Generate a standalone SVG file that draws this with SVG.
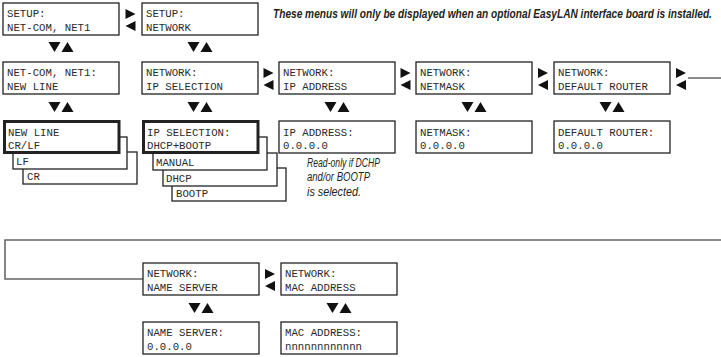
<svg xmlns="http://www.w3.org/2000/svg" xmlns:xlink="http://www.w3.org/1999/xlink" width="721" height="357" viewBox="0 0 721 357">
<style>
.box{fill:#fff;stroke:#222;stroke-width:1.3}
.thick{fill:#fff;stroke:#222;stroke-width:3}
.t{font-family:"Liberation Mono","DejaVu Sans Mono",monospace;font-size:10.7px;fill:#2a2a2a}
.note{font-family:"Liberation Sans",Arial,sans-serif;font-style:italic;fill:#231f20}
.conn{fill:none;stroke:#666;stroke-width:1.6}
.tri{fill:#111}
</style>
<defs>
<path id="td" d="M0,0 L12,0 L6,10 Z"/>
<path id="tu" d="M0,10 L12,10 L6,0 Z"/>
<path id="tr" d="M0,0 L10,5 L0,10 Z"/>
<path id="tl" d="M10,0 L0,5 L10,10 Z"/>
</defs>

<text class="note" transform="matrix(0.7,0,0,1,273,18)" x="0" y="0" font-size="13.5" font-weight="bold" textLength="627" lengthAdjust="spacingAndGlyphs">These menus will only be displayed when an optional EasyLAN  interface board is installed.</text>

<g id="connectors">
<polyline class="conn" points="688,78 721,78"/>
<polyline class="conn" points="721,240 5,240 5,279 143,279"/>
<g class="tri">
<use xlink:href="#td" x="48.5" y="42"/><use xlink:href="#tu" x="61.5" y="42"/>
<use xlink:href="#td" x="187.5" y="42"/><use xlink:href="#tu" x="200.5" y="42"/>
<use xlink:href="#td" x="48.5" y="102"/><use xlink:href="#tu" x="61.5" y="102"/>
<use xlink:href="#td" x="187.5" y="102"/><use xlink:href="#tu" x="200.5" y="102"/>
<use xlink:href="#td" x="324.5" y="102"/><use xlink:href="#tu" x="337.5" y="102"/>
<use xlink:href="#td" x="461.5" y="102"/><use xlink:href="#tu" x="474.5" y="102"/>
<use xlink:href="#td" x="599.5" y="102"/><use xlink:href="#tu" x="612.5" y="102"/>
<use xlink:href="#td" x="188.5" y="303"/><use xlink:href="#tu" x="201.5" y="303"/>
<use xlink:href="#td" x="326.5" y="303"/><use xlink:href="#tu" x="339.5" y="303"/>
<use xlink:href="#tr" x="125.5" y="9"/><use xlink:href="#tl" x="125.5" y="21"/>
<use xlink:href="#tr" x="263.5" y="68"/><use xlink:href="#tl" x="263.5" y="80"/>
<use xlink:href="#tr" x="400.5" y="68"/><use xlink:href="#tl" x="400.5" y="80"/>
<use xlink:href="#tr" x="538" y="68"/><use xlink:href="#tl" x="538" y="80"/>
<use xlink:href="#tr" x="676" y="68"/><use xlink:href="#tl" x="676" y="80"/>
<use xlink:href="#tr" x="265" y="269"/><use xlink:href="#tl" x="265" y="281"/>
</g>
</g>

<g id="setup-netcom"><rect class="box" x="3" y="3" width="116" height="32"/><text class="t" x="7" y="17">SETUP:</text><text class="t" x="7" y="30.5">NET-COM, NET1</text></g>
<g id="setup-network"><rect class="box" x="142" y="3" width="116" height="32"/><text class="t" x="146" y="17">SETUP:</text><text class="t" x="146" y="30.5">NETWORK</text></g>

<g id="netcom-newline"><rect class="box" x="3" y="62" width="116" height="32"/><text class="t" x="7" y="76">NET-COM, NET1:</text><text class="t" x="7" y="89.5">NEW LINE</text></g>
<g id="network-ipsel"><rect class="box" x="142" y="62" width="116" height="32"/><text class="t" x="146" y="76">NETWORK:</text><text class="t" x="146" y="89.5">IP SELECTION</text></g>
<g id="network-ipaddr"><rect class="box" x="279" y="62" width="116" height="32"/><text class="t" x="283" y="76">NETWORK:</text><text class="t" x="283" y="89.5">IP ADDRESS</text></g>
<g id="network-netmask"><rect class="box" x="416" y="62" width="116" height="32"/><text class="t" x="420" y="76">NETWORK:</text><text class="t" x="420" y="89.5">NETMASK</text></g>
<g id="network-router"><rect class="box" x="554" y="62" width="116" height="32"/><text class="t" x="558" y="76">NETWORK:</text><text class="t" x="558" y="89.5">DEFAULT ROUTER</text></g>

<g id="newline-value">
<rect class="box" x="23" y="152" width="114" height="32"/><text class="t" x="27" y="180">CR</text>
<rect class="box" x="13" y="137" width="114" height="32"/><text class="t" x="16" y="165">LF</text>
<rect class="thick" x="4.5" y="121.5" width="114.5" height="31"/><text class="t" x="8" y="135.5">NEW LINE</text><text class="t" x="8" y="149">CR/LF</text>
</g>
<g id="ipsel-value">
<rect class="box" x="172" y="168" width="114" height="33"/><text class="t" x="176" y="197">BOOTP</text>
<rect class="box" x="163" y="153" width="114" height="33"/><text class="t" x="166" y="182">DHCP</text>
<rect class="box" x="153" y="137" width="114" height="33"/><text class="t" x="156" y="166">MANUAL</text>
<rect class="thick" x="143.5" y="121.5" width="114.5" height="31"/><text class="t" x="147" y="135.5">IP SELECTION:</text><text class="t" x="147" y="149">DHCP+BOOTP</text>
</g>
<g id="ipaddr-value"><rect class="box" x="279" y="121" width="116" height="32"/><text class="t" x="283" y="135.5">IP ADDRESS:</text><text class="t" x="283" y="149">0.0.0.0</text></g>
<g id="netmask-value"><rect class="box" x="416" y="121" width="116" height="32"/><text class="t" x="420" y="135.5">NETMASK:</text><text class="t" x="420" y="149">0.0.0.0</text></g>
<g id="router-value"><rect class="box" x="554" y="121" width="116" height="32"/><text class="t" x="558" y="135.5">DEFAULT ROUTER:</text><text class="t" x="558" y="149">0.0.0.0</text></g>

<g id="readonly-note">
<text class="note" x="307" y="167" font-size="12" textLength="73" lengthAdjust="spacingAndGlyphs">Read-only if DCHP</text>
<text class="note" x="307" y="181" font-size="12" textLength="63" lengthAdjust="spacingAndGlyphs">and/or BOOTP</text>
<text class="note" x="307" y="196" font-size="12" textLength="54" lengthAdjust="spacingAndGlyphs">is selected.</text>
</g>

<g id="network-nameserver"><rect class="box" x="143" y="263" width="116" height="32"/><text class="t" x="147" y="277">NETWORK:</text><text class="t" x="147" y="290.5">NAME SERVER</text></g>
<g id="network-mac"><rect class="box" x="281" y="263" width="116" height="32"/><text class="t" x="285" y="277">NETWORK:</text><text class="t" x="285" y="290.5">MAC ADDRESS</text></g>
<g id="nameserver-value"><rect class="box" x="143" y="322" width="116" height="32"/><text class="t" x="147" y="336">NAME SERVER:</text><text class="t" x="147" y="349.5">0.0.0.0</text></g>
<g id="mac-value"><rect class="box" x="281" y="322" width="116" height="32"/><text class="t" x="285" y="336">MAC ADDRESS:</text><text class="t" x="285" y="349.5">nnnnnnnnnnnn</text></g>
</svg>
